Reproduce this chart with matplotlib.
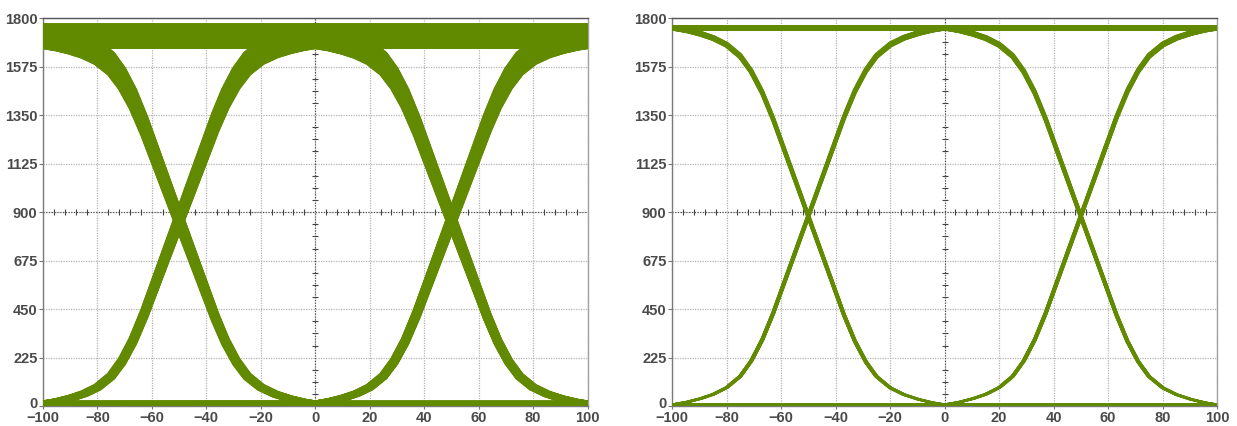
import numpy as np
import matplotlib
matplotlib.use("Agg")
import matplotlib.pyplot as plt
import matplotlib.transforms as mtrans

# Eixos
x_ticks = [-100, -80, -60, -40, -20, 0, 20, 40, 60, 80, 100]
y_ticks = [0, 225, 450, 675, 900, 1125, 1350, 1575, 1800]

# Perfil da borda (metade): distancia ao cruzamento -> fracao da transicao
edge_t = [0, 4, 8, 13, 17, 21, 25, 30, 35, 40, 45, 50]
edge_f = [0.5, 0.58, 0.66, 0.76, 0.83, 0.885, 0.925, 0.955, 0.973, 0.985, 0.994, 1.0]

# Padroes de bits (anterior, atual, seguinte)
patterns = [(0, 0, 0), (0, 0, 1), (0, 1, 0), (0, 1, 1),
            (1, 0, 0), (1, 0, 1), (1, 1, 0), (1, 1, 1)]
crossings = [-50, 50]

# Painel esquerdo: niveis espalhados
high_left = [1664, 1678, 1692, 1705, 1718, 1732, 1745, 1758, 1768]
low_left = [4, 9, 14, 19]
jitter_left = [-1.0, -0.5, 0.0, 0.5, 1.0]

# Painel direito: niveis estaveis
high_right = [1746, 1752, 1758, 1764]
low_right = [6, 9]
jitter_right = [-0.4, 0.0, 0.4]

cor = "#628a00"


def frac(t):
    t = np.clip(t, -50, 50)
    f = np.interp(np.abs(t), edge_t, edge_f)
    return np.where(t >= 0, f, 1 - f)


def trace(p, lo, hi, jit, x):
    lv = [hi if b else lo for b in p]
    y = np.empty_like(x)
    m = x <= 0
    y[m] = lv[0] + (lv[1] - lv[0]) * frac(x[m] - crossings[0] + jit)
    y[~m] = lv[1] + (lv[2] - lv[1]) * frac(x[~m] - crossings[1] + jit)
    return y


def painel(ax, highs, lows, jits, lw):
    x = np.linspace(-100, 100, 801)
    k = 0
    for p in patterns:
        for hi in highs:
            for j in jits:
                lo = lows[k % len(lows)]
                k += 1
                ax.plot(x, trace(p, lo, hi, j, x), color=cor, lw=lw,
                        solid_capstyle="butt", zorder=3)

    ax.set_xlim(-100, 100)
    ax.set_ylim(0, 1800)
    ax.set_xticks(x_ticks)
    ax.set_yticks(y_ticks)
    ax.grid(color="#b5b5b5", ls=(0, (1, 1)), lw=0.9, zorder=0)
    ax.set_axisbelow(True)

    # cruz central com marcas
    ax.axhline(900, color="#444444", ls=(0, (1, 1.5)), lw=0.8, zorder=1)
    ax.axvline(0, color="#444444", ls=(0, (1, 1.5)), lw=0.8, zorder=1)
    mx = np.arange(-96, 100, 4)
    mx = mx[mx % 20 != 0]
    ax.plot(mx, np.full(len(mx), 900), ls="none", marker="|", ms=4.5,
            mew=0.8, color="#444444", zorder=1)
    my = np.arange(56.25, 1800, 56.25)
    my = my[np.abs(my / 225 - np.round(my / 225)) > 0.01]
    ax.plot(np.zeros(len(my)), my, ls="none", marker="_", ms=4.5,
            mew=0.8, color="#444444", zorder=1)

    for s in ax.spines.values():
        s.set_color("#7a7a7a")
        s.set_linewidth(1.0)
    ax.spines["top"].set_color("#555555")
    ax.spines["right"].set_color("#a0a0a0")
    ax.tick_params(axis="both", length=3, width=0.8, color="#777777",
                   labelsize=10.5, labelcolor="#4a4a4a")
    ax.tick_params(axis="y", pad=1)
    ax.tick_params(axis="x", length=2, pad=1.5)
    for lab in ax.get_xticklabels() + ax.get_yticklabels():
        lab.set_fontweight("bold")
        lab.set_family("Liberation Sans")

    # "0" do eixo y um pouco acima para nao encostar no "-100"
    lab0 = ax.get_yticklabels()[0]
    lab0.set_transform(lab0.get_transform() +
                       mtrans.ScaledTranslation(0, 3 / 72, fig.dpi_scale_trans))


fig = plt.figure(figsize=(12.37, 4.26), dpi=100)
ax1 = fig.add_axes([43 / 1237, 19.7 / 426, 544.5 / 1237, 388.3 / 426])
ax2 = fig.add_axes([672 / 1237, 19.7 / 426, 545 / 1237, 388.3 / 426])

painel(ax1, high_left, low_left, jitter_left, 2.0)
painel(ax2, high_right, low_right, jitter_right, 1.1)

fig.savefig("out.png", dpi=100, facecolor="white")
